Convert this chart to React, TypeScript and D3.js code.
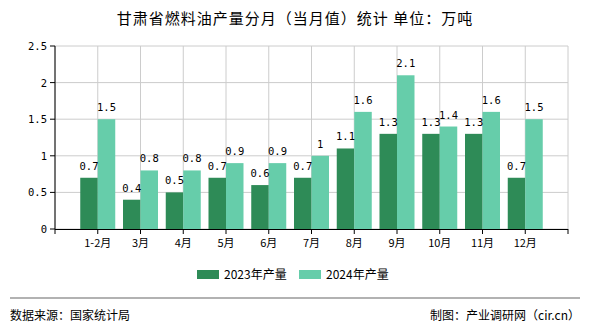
import React from "react";
import * as d3 from "d3";

const categories = ["1-2月", "3月", "4月", "5月", "6月", "7月", "8月", "9月", "10月", "11月", "12月"];
const values2023 = [0.7, 0.4, 0.5, 0.7, 0.6, 0.7, 1.1, 1.3, 1.3, 1.3, 0.7];
const values2024 = [1.5, 0.8, 0.8, 0.9, 0.9, 1, 1.6, 2.1, 1.4, 1.6, 1.5];
const yTicks = [0, 0.5, 1, 1.5, 2, 2.5];
const seriesNames = ["2023年产量", "2024年产量"];
const colors = ["#2e8b57", "#66cdaa"];

const W = 590, H = 330;
const left = 55, right = 568, top = 46, bottom = 229;
const mono = "'DejaVu Sans Mono', monospace";
const sans = "'Noto Sans CJK SC', 'Noto Sans', sans-serif";

export default function App() {
  const y = d3.scaleLinear().domain([0, 2.5]).range([bottom, top]);
  const slots = d3.range(categories.length + 1);
  const x = d3.scaleLinear().domain([0, categories.length + 1]).range([left, right]);
  const bw = 17.5;
  const fmt = (v: number) => String(v);
  return (
    <svg width={W} height={H} style={{ position: "absolute", left: 0, top: 0, background: "#fff" }}>
      <text x={295} y={24} textAnchor="middle" fontFamily={sans} fontSize={15} letterSpacing={1} fill="#000">
        甘肃省燃料油产量分月（当月值）统计 单位：万吨
      </text>
      {yTicks.map((t) => (
        <line key={"hg" + t} x1={left} x2={right} y1={y(t)} y2={y(t)} stroke="#cccccc" strokeWidth={1} />
      ))}
      {d3.range(categories.length + 2).map((i) => (
        <line key={"vg" + i} x1={x(i)} x2={x(i)} y1={top} y2={bottom} stroke="#cccccc" strokeWidth={1} />
      ))}
      {categories.map((c, i) => {
        const cx = x(i + 1);
        return (
          <g key={c}>
            <rect x={cx - bw} y={y(values2023[i])} width={bw} height={bottom - y(values2023[i])} fill={colors[0]} />
            <rect x={cx} y={y(values2024[i])} width={bw} height={bottom - y(values2024[i])} fill={colors[1]} />
            <text x={cx - bw / 2} y={y(values2023[i]) - 8} textAnchor="middle" fontFamily={mono} fontSize={10.5} fill="#000">
              {fmt(values2023[i])}
            </text>
            <text x={cx + bw / 2} y={y(values2024[i]) - 8} textAnchor="middle" fontFamily={mono} fontSize={10.5} fill="#000">
              {fmt(values2024[i])}
            </text>
            <text x={cx} y={247} textAnchor="middle" fontFamily={sans} fontSize={11} fill="#000">
              {c}
            </text>
          </g>
        );
      })}
      <line x1={left} x2={left} y1={top} y2={bottom} stroke="#000" />
      <line x1={left} x2={right} y1={bottom + 0.5} y2={bottom + 0.5} stroke="#000" />
      {yTicks.map((t) => (
        <g key={"yt" + t}>
          <line x1={left - 5} x2={left} y1={y(t)} y2={y(t)} stroke="#000" />
          <text x={left - 8} y={y(t) + 4} textAnchor="end" fontFamily={mono} fontSize={10.5} fill="#000">
            {fmt(t)}
          </text>
        </g>
      ))}
      {slots.concat([categories.length + 1]).map((i) => (
        <line key={"xt" + i} x1={x(i)} x2={x(i)} y1={bottom} y2={bottom + 5} stroke="#000" />
      ))}
      {seriesNames.map((s, i) => (
        <g key={s}>
          <rect x={197 + i * 102} y={270} width={22} height={9} fill={colors[i]} />
          <text x={224 + i * 102} y={279} fontFamily={sans} fontSize={12} fill="#000">
            {s}
          </text>
        </g>
      ))}
      <line x1={10} x2={580} y1={298} y2={298} stroke="#999" strokeWidth={1.5} />
      <text x={10} y={320} fontFamily={sans} fontSize={12} fill="#000">数据来源：国家统计局</text>
      <text x={580} y={320} textAnchor="end" fontFamily={sans} fontSize={12} fill="#000">制图：产业调研网（cir.cn）</text>
    </svg>
  );
}
